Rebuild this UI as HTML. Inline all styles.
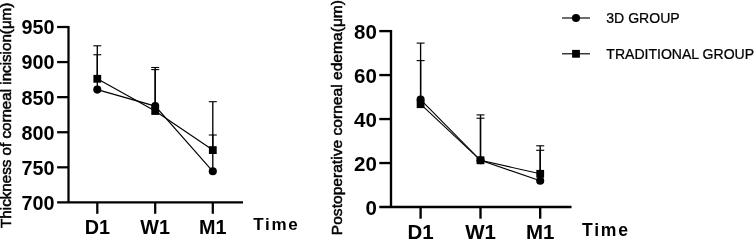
<!DOCTYPE html>
<html><head><meta charset="utf-8"><title>Chart</title>
<style>
html,body{margin:0;padding:0;background:#fff;}
svg{display:block}
text{font-family:"Liberation Sans",Arial,sans-serif;fill:#000}
.tk{font-size:19.8px;font-weight:bold}
.tm{font-size:17px;font-weight:bold;letter-spacing:1.7px}
.yl{font-size:14px;stroke:#000;stroke-width:0.5px}
.lg{font-size:14.5px;stroke:#000;stroke-width:0.25px}
</style></head><body>
<svg width="755" height="241" viewBox="0 0 755 241">
<rect width="755" height="241" fill="#fff"/>
<path d="M68.5,25.88 V203.53 M57.1,202.4 H243" stroke="#000" stroke-width="2.25" fill="none"/>
<path d="M57.1,27.0 H68.5" stroke="#000" stroke-width="2.25"/>
<text transform="translate(54.6,34.4) scale(1.0,1)" text-anchor="end" class="tk" style="font-size:19.8px">950</text>
<path d="M57.1,62.08 H68.5" stroke="#000" stroke-width="2.25"/>
<text transform="translate(54.6,69.48) scale(1.0,1)" text-anchor="end" class="tk" style="font-size:19.8px">900</text>
<path d="M57.1,97.16 H68.5" stroke="#000" stroke-width="2.25"/>
<text transform="translate(54.6,104.56) scale(1.0,1)" text-anchor="end" class="tk" style="font-size:19.8px">850</text>
<path d="M57.1,132.24 H68.5" stroke="#000" stroke-width="2.25"/>
<text transform="translate(54.6,139.64) scale(1.0,1)" text-anchor="end" class="tk" style="font-size:19.8px">800</text>
<path d="M57.1,167.32 H68.5" stroke="#000" stroke-width="2.25"/>
<text transform="translate(54.6,174.72) scale(1.0,1)" text-anchor="end" class="tk" style="font-size:19.8px">750</text>
<text transform="translate(54.6,209.8) scale(1.0,1)" text-anchor="end" class="tk" style="font-size:19.8px">700</text>
<path d="M97.3,202.4 V213.8" stroke="#000" stroke-width="2.25"/>
<text transform="translate(97.3,234.2) scale(1.0,1)" text-anchor="middle" class="tk" style="font-size:19.8px">D1</text>
<path d="M155.2,202.4 V213.8" stroke="#000" stroke-width="2.25"/>
<text transform="translate(155.2,234.2) scale(1.0,1)" text-anchor="middle" class="tk" style="font-size:19.8px">W1</text>
<path d="M212.8,202.4 V213.8" stroke="#000" stroke-width="2.25"/>
<text transform="translate(212.8,234.2) scale(1.0,1)" text-anchor="middle" class="tk" style="font-size:19.8px">M1</text>
<text transform="translate(253.2,230.3) scale(1.0,1)" text-anchor="start" class="tm" style="font-size:17.0px;letter-spacing:1.7px">Time</text>
<text transform="translate(11.1,115.3) rotate(-90) scale(1.084,1)" text-anchor="middle" class="yl" style="font-size:14.0px">Thickness of corneal incision(μm)</text>
<path d="M97.3,89.6 L155.2,106.1 L212.8,171.3" stroke="#000" stroke-width="1.15" fill="none"/>
<path d="M97.3,78.8 L155.2,111.0 L212.8,150.1" stroke="#000" stroke-width="1.15" fill="none"/>
<path d="M97.3,89.6 V54.75" stroke="#000" stroke-width="1.35" fill="none"/>
<path d="M93.3,54.75 H101.3" stroke="#000" stroke-width="1.1" fill="none"/>
<circle cx="97.3" cy="89.6" r="4.05"/>
<path d="M155.2,106.1 V69.6" stroke="#000" stroke-width="1.35" fill="none"/>
<path d="M151.2,69.6 H159.2" stroke="#000" stroke-width="1.1" fill="none"/>
<circle cx="155.2" cy="106.1" r="4.05"/>
<path d="M212.8,171.3 V135.0" stroke="#000" stroke-width="1.35" fill="none"/>
<path d="M208.8,135.0 H216.8" stroke="#000" stroke-width="1.1" fill="none"/>
<circle cx="212.8" cy="171.3" r="4.05"/>
<path d="M97.3,78.8 V45.8" stroke="#000" stroke-width="1.35" fill="none"/>
<path d="M93.3,45.8 H101.3" stroke="#000" stroke-width="1.1" fill="none"/>
<rect x="93.4" y="74.9" width="7.8" height="7.8"/>
<path d="M155.2,111.0 V67.5" stroke="#000" stroke-width="1.35" fill="none"/>
<path d="M151.2,67.5 H159.2" stroke="#000" stroke-width="1.1" fill="none"/>
<rect x="151.3" y="107.1" width="7.8" height="7.8"/>
<path d="M212.8,150.1 V101.7" stroke="#000" stroke-width="1.35" fill="none"/>
<path d="M208.8,101.7 H216.8" stroke="#000" stroke-width="1.1" fill="none"/>
<rect x="208.9" y="146.2" width="7.8" height="7.8"/>
<path d="M391,29.93 V208.18 M379.3,207.0 H571.5" stroke="#000" stroke-width="2.35" fill="none"/>
<path d="M379.3,31.1 H391" stroke="#000" stroke-width="2.35"/>
<text transform="translate(376.8,38.76) scale(1.0,1)" text-anchor="end" class="tk" style="font-size:20.49px">80</text>
<path d="M379.3,75.07 H391" stroke="#000" stroke-width="2.35"/>
<text transform="translate(376.8,82.73) scale(1.0,1)" text-anchor="end" class="tk" style="font-size:20.49px">60</text>
<path d="M379.3,119.05 H391" stroke="#000" stroke-width="2.35"/>
<text transform="translate(376.8,126.71) scale(1.0,1)" text-anchor="end" class="tk" style="font-size:20.49px">40</text>
<path d="M379.3,163.03 H391" stroke="#000" stroke-width="2.35"/>
<text transform="translate(376.8,170.69) scale(1.0,1)" text-anchor="end" class="tk" style="font-size:20.49px">20</text>
<text transform="translate(376.8,214.66) scale(1.0,1)" text-anchor="end" class="tk" style="font-size:20.49px">0</text>
<path d="M420.6,207.0 V218.7" stroke="#000" stroke-width="2.35"/>
<text transform="translate(420.6,239.1) scale(1.0,1)" text-anchor="middle" class="tk" style="font-size:20.49px">D1</text>
<path d="M480.5,207.0 V218.7" stroke="#000" stroke-width="2.35"/>
<text transform="translate(480.5,239.1) scale(1.0,1)" text-anchor="middle" class="tk" style="font-size:20.49px">W1</text>
<path d="M540.2,207.0 V218.7" stroke="#000" stroke-width="2.35"/>
<text transform="translate(540.2,239.1) scale(1.0,1)" text-anchor="middle" class="tk" style="font-size:20.49px">M1</text>
<text transform="translate(582,235.6) scale(1.0,1)" text-anchor="start" class="tm" style="font-size:17.59px;letter-spacing:1.76px">Time</text>
<text transform="translate(342.3,117.6) rotate(-90) scale(1.078,1)" text-anchor="middle" class="yl" style="font-size:14.49px">Postoperative corneal edema(μm)</text>
<path d="M420.6,99.6 L480.5,160.3 L540.2,180.7" stroke="#000" stroke-width="1.15" fill="none"/>
<path d="M420.6,104.2 L480.5,160.3 L540.2,173.8" stroke="#000" stroke-width="1.15" fill="none"/>
<path d="M420.6,99.6 V43.1" stroke="#000" stroke-width="1.35" fill="none"/>
<path d="M416.6,43.1 H424.6" stroke="#000" stroke-width="1.1" fill="none"/>
<circle cx="420.6" cy="99.6" r="4.05"/>
<path d="M480.5,160.3 V114.9" stroke="#000" stroke-width="1.35" fill="none"/>
<path d="M476.5,114.9 H484.5" stroke="#000" stroke-width="1.1" fill="none"/>
<circle cx="480.5" cy="160.3" r="4.05"/>
<path d="M540.2,180.7 V145.8" stroke="#000" stroke-width="1.35" fill="none"/>
<path d="M536.2,145.8 H544.2" stroke="#000" stroke-width="1.1" fill="none"/>
<circle cx="540.2" cy="180.7" r="4.05"/>
<path d="M420.6,104.2 V60.6" stroke="#000" stroke-width="1.35" fill="none"/>
<path d="M416.6,60.6 H424.6" stroke="#000" stroke-width="1.1" fill="none"/>
<rect x="416.7" y="100.3" width="7.8" height="7.8"/>
<path d="M480.5,160.3 V118.2" stroke="#000" stroke-width="1.35" fill="none"/>
<path d="M476.5,118.2 H484.5" stroke="#000" stroke-width="1.1" fill="none"/>
<rect x="476.6" y="156.4" width="7.8" height="7.8"/>
<path d="M540.2,173.8 V150.3" stroke="#000" stroke-width="1.35" fill="none"/>
<path d="M536.2,150.3 H544.2" stroke="#000" stroke-width="1.1" fill="none"/>
<rect x="536.3" y="169.9" width="7.8" height="7.8"/>

<path d="M562,18 H590" stroke="#000" stroke-width="1.15"/><circle cx="576" cy="18" r="4.05"/>
<text transform="translate(606.3,22.8) scale(0.97,1)" class="lg">3D GROUP</text>
<path d="M562,53.8 H590" stroke="#000" stroke-width="1.15"/><rect x="572.1" y="49.9" width="7.8" height="7.8"/>
<text transform="translate(606.3,58.6) scale(0.97,1)" class="lg">TRADITIONAL GROUP</text>

</svg>
</body></html>
